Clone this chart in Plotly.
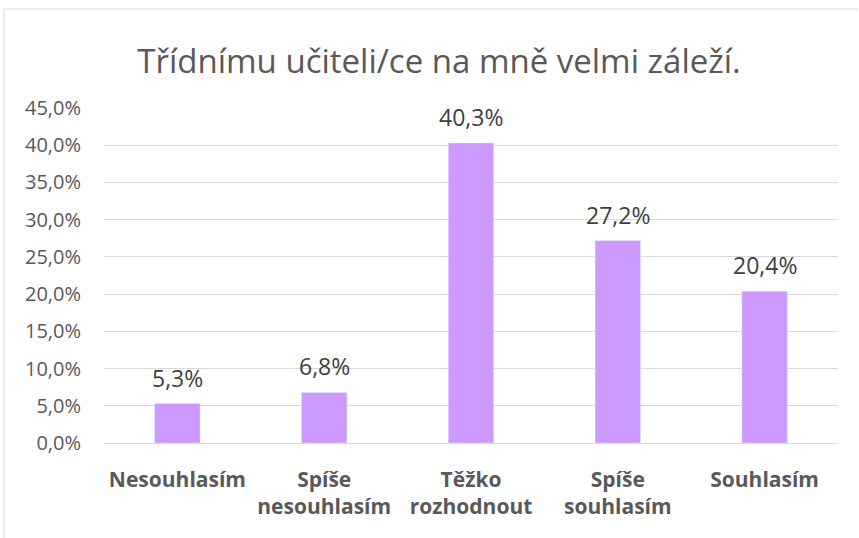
import plotly.graph_objects as go

categories = ["Nesouhlasím", "Spíše<br>nesouhlasím", "Těžko<br>rozhodnout", "Spíše<br>souhlasím", "Souhlasím"]
values = [5.3, 6.8, 40.3, 27.2, 20.4]
labels = ["5,3%", "6,8%", "40,3%", "27,2%", "20,4%"]
tick_vals = [0, 5, 10, 15, 20, 25, 30, 35, 40, 45]
tick_text = ["0,0%", "5,0%", "10,0%", "15,0%", "20,0%", "25,0%", "30,0%", "35,0%", "40,0%", "45,0%"]

FONT = "Open Sans"
W, H = 859, 538
L, R, T, B = 104, 21, 108, 95
pw, ph = W - L - R, H - T - B

fig = go.Figure(go.Bar(
    x=categories, y=values,
    marker=dict(color="#CC99FF"), width=0.31,
))

for c, v, t in zip(categories, values, labels):
    fig.add_annotation(x=c, y=v, text=t, showarrow=False, yanchor="middle", yshift=26,
                       font=dict(family=FONT, size=23, color="#404040"))

def px(x):
    return (x - L) / pw

def py(y):
    return (H - B - y) / ph

fig.update_layout(
    width=W, height=H,
    margin=dict(l=L, r=R, t=T, b=B),
    paper_bgcolor="white", plot_bgcolor="white",
    title=dict(text="Třídnímu učiteli/ce na mně velmi záleží.", x=439 / W, xanchor="center",
               y=1 - 61 / H, yanchor="middle",
               font=dict(family=FONT, size=33, color="#595959")),
    showlegend=False,
    xaxis=dict(tickfont=dict(family=FONT, size=21, color="#595959", weight="bold"),
               showgrid=False, showline=False, ticks="", ticklabelstandoff=22),
    yaxis=dict(range=[0, 45], tickvals=tick_vals, ticktext=tick_text,
               tickfont=dict(family=FONT, size=20, color="#595959"),
               showgrid=True, gridcolor="#D9D9D9", gridwidth=1, zeroline=True,
               zerolinecolor="#D9D9D9", zerolinewidth=1, ticks="",
               ticklabelstandoff=22),
    shapes=[
        dict(type="line", xref="paper", yref="paper", x0=px(4), x1=px(858), y0=py(9), y1=py(9),
             line=dict(color="#D9D9D9", width=1)),
        dict(type="line", xref="paper", yref="paper", x0=px(4), x1=px(4), y0=py(9), y1=py(538),
             line=dict(color="#D9D9D9", width=1)),
    ],
)

fig.write_html("out.html", config={"displayModeBar": False},
               post_script="document.body.style.margin='0';document.body.style.overflow='hidden';")
